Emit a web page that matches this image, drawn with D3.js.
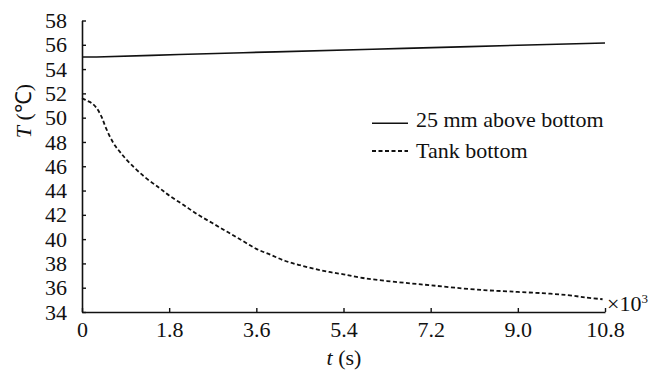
<!DOCTYPE html>
<html>
<head>
<meta charset="utf-8">
<script src="https://cdn.jsdelivr.net/npm/d3@7"></script>
<style>
  html, body { margin: 0; padding: 0; background: #fff; }
  svg { display: block; }
  text { font-family: "Liberation Serif", "Times New Roman", serif; fill: #111; }
</style>
</head>
<body>
<svg id="chart" width="662" height="371"></svg>
<script>
// ---- data (time in 10^3 s, temperature in °C) ----
const xTicks = [0, 1.8, 3.6, 5.4, 7.2, 9.0, 10.8];
const xTickLabels = ["0", "1.8", "3.6", "5.4", "7.2", "9.0", "10.8"];
const yTicks = [34, 36, 38, 40, 42, 44, 46, 48, 50, 52, 54, 56, 58];

const seriesNames = ["25 mm above bottom", "Tank bottom"];

const aboveTime = [0, 0.3, 2.0, 4.0, 6.0, 8.0, 10.8];
const aboveTemp = [55.0, 55.0, 55.2, 55.42, 55.63, 55.85, 56.15];

const bottomTime = [0, 0.1, 0.2, 0.3, 0.4, 0.5, 0.65, 0.8, 1.0, 1.3, 1.6, 1.8, 2.1, 2.4, 2.7,
                    3.0, 3.3, 3.6, 3.9, 4.2, 4.5, 4.8, 5.1, 5.4, 5.8, 6.3, 6.8, 7.2, 7.7, 8.3,
                    8.8, 9.0, 9.5, 10.0, 10.4, 10.75];
const bottomTemp = [51.6, 51.4, 51.2, 50.8, 50.1, 49.1, 47.9, 47.1, 46.2, 45.1, 44.2, 43.6, 42.8, 42.0, 41.3,
                    40.6, 39.9, 39.2, 38.7, 38.2, 37.85, 37.55, 37.3, 37.1, 36.8, 36.55, 36.35, 36.2, 36.0, 35.8,
                    35.7, 35.65, 35.55, 35.4, 35.2, 35.05];

// ---- layout ----
const svg = d3.select("#chart");
const FS = 22;
const x = d3.scaleLinear().domain([0, 10.8]).range([82, 605]);
const y = d3.scaleLinear().domain([34, 58]).range([312, 20.5]);

// axes
const xAxis = d3.axisBottom(x).tickValues(xTicks)
  .tickFormat((d, i) => xTickLabels[i]).tickSizeInner(-4).tickSizeOuter(0).tickPadding(9);
const yAxis = d3.axisLeft(y).tickValues(yTicks)
  .tickFormat(d3.format("d")).tickSizeInner(-4).tickSizeOuter(0).tickPadding(15);

const gx = svg.append("g").attr("transform", `translate(0,${y(34)})`).call(xAxis);
const gy = svg.append("g").attr("transform", `translate(${x(0)},0)`).call(yAxis);

[gx, gy].forEach(g => {
  g.select(".domain").attr("stroke", "#111").attr("stroke-width", 1.6);
  g.selectAll(".tick line").attr("stroke", "#111").attr("stroke-width", 1.4);
  g.selectAll(".tick text").attr("font-size", FS)
    .attr("font-family", "Liberation Serif").attr("fill", "#111");
});

// lines
const above = aboveTime.map((t, i) => [t, aboveTemp[i]]);
const bottom = bottomTime.map((t, i) => [t, bottomTemp[i]]);
const line = d3.line().x(d => x(d[0])).y(d => y(d[1])).curve(d3.curveCatmullRom);

svg.append("path").datum(above).attr("d", line)
  .attr("fill", "none").attr("stroke", "#111").attr("stroke-width", 1.6);
svg.append("path").datum(bottom).attr("d", line)
  .attr("fill", "none").attr("stroke", "#111").attr("stroke-width", 1.8)
  .attr("stroke-dasharray", "4,2.5");

// ×10^3 multiplier
const mult = svg.append("text").attr("x", 607).attr("y", 311).attr("font-size", FS);
mult.append("tspan").text("×10");
mult.append("tspan").attr("font-size", 13).attr("dy", -8).text("3");

// axis titles
const xt = svg.append("text").attr("x", 344).attr("y", 365)
  .attr("text-anchor", "middle").attr("font-size", FS);
xt.append("tspan").attr("font-style", "italic").text("t");
xt.append("tspan").text(" (s)");

const yt = svg.append("text")
  .attr("transform", `translate(31,111) rotate(-90)`)
  .attr("text-anchor", "middle").attr("font-size", FS);
yt.append("tspan").attr("font-style", "italic").text("T");
yt.append("tspan").text(" (℃)");

// legend
const legend = svg.append("g");
const legendRows = [
  { name: seriesNames[0], dash: null, ly: 123.3, ty: 127, w: 1.6 },
  { name: seriesNames[1], dash: "4,2.5", ly: 151, ty: 158, w: 1.8 }
];
legendRows.forEach(r => {
  legend.append("line").attr("x1", 372).attr("x2", 408).attr("y1", r.ly).attr("y2", r.ly)
    .attr("stroke", "#111").attr("stroke-width", r.w)
    .attr("stroke-dasharray", r.dash);
  legend.append("text").attr("x", 416).attr("y", r.ty).attr("font-size", FS).text(r.name);
});
</script>
</body>
</html>
